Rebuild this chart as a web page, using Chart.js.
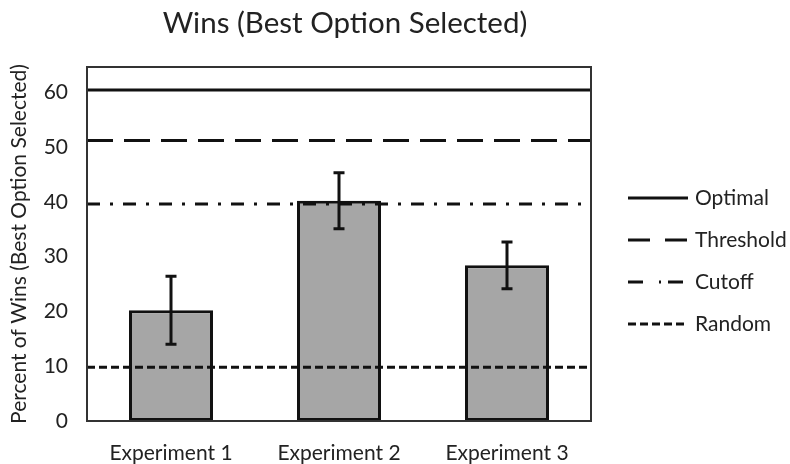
<!DOCTYPE html>
<html>
<head>
<meta charset="utf-8">
<script src="https://cdn.jsdelivr.net/npm/chart.js@4.4.1/dist/chart.umd.min.js"></script>
<style>
  html, body { margin: 0; padding: 0; background: #ffffff; }
  #wrap { width: 790px; height: 464px; }
</style>
</head>
<body>
<div id="wrap"><canvas id="chart" width="790" height="464"></canvas></div>
<script>
// Share of trials in which the best option was selected, per experiment
const experiments = ['Experiment 1', 'Experiment 2', 'Experiment 3'];
const winPercent = [20.2, 40.2, 28.4];
const winError = [6.2, 5.1, 4.25];

// Benchmark strategies shown as horizontal reference lines
const benchmarkNames = ['Optimal', 'Threshold', 'Cutoff', 'Random'];
const benchmarkValues = [60.4, 51.2, 39.6, 9.8];

const yTicks = [0, 10, 20, 30, 40, 50, 60];

const FONT = 'Lato, "Open Sans", "Noto Sans", sans-serif';
const INK = '#222222';

// dash patterns: in the plot and in the key
const plotDash = { Optimal: [], Threshold: [26, 11], Cutoff: [13, 10, 3, 10], Random: [8, 4] };
const keyDash = { Optimal: [], Threshold: [22, 15], Cutoff: [15, 16, 2, 7], Random: [8, 4] };

const overlay = {
  id: 'overlay',
  afterLayout(chart) {
    // centre the title slightly right of the plot centre
    const t = chart.titleBlock;
    if (t) { t.left += 6; t.right += 6; }
  },
  afterDatasetsDraw(chart) {
    const { ctx, chartArea: a, scales: { x, y } } = chart;
    ctx.save();
    // reference lines
    ctx.strokeStyle = '#111111';
    ctx.lineWidth = 3;
    ctx.lineCap = 'butt';
    benchmarkNames.forEach((name, i) => {
      const py = y.getPixelForValue(benchmarkValues[i]);
      ctx.setLineDash(plotDash[name]);
      ctx.beginPath();
      ctx.moveTo(a.left, py);
      ctx.lineTo(a.right, py);
      ctx.stroke();
    });
    ctx.setLineDash([]);
    // error bars
    winPercent.forEach((v, i) => {
      const px = x.getPixelForValue(i);
      const hi = y.getPixelForValue(v + winError[i]);
      const lo = y.getPixelForValue(v - winError[i]);
      ctx.beginPath();
      ctx.moveTo(px, hi); ctx.lineTo(px, lo);
      ctx.moveTo(px - 5.5, hi); ctx.lineTo(px + 5.5, hi);
      ctx.moveTo(px - 5.5, lo); ctx.lineTo(px + 5.5, lo);
      ctx.stroke();
    });
    // plot frame
    ctx.strokeStyle = '#333333';
    ctx.lineWidth = 2;
    ctx.strokeRect(a.left, a.top, a.right - a.left, a.bottom - a.top);
    ctx.restore();
  },
  afterDraw(chart) {
    const { ctx } = chart;
    ctx.save();
    ctx.font = '21px ' + FONT;
    ctx.textBaseline = 'middle';
    ctx.textAlign = 'left';
    benchmarkNames.forEach((name, i) => {
      const ly = 198 + 42 * i;
      ctx.strokeStyle = '#111111';
      ctx.lineWidth = 3;
      ctx.setLineDash(keyDash[name]);
      ctx.beginPath();
      ctx.moveTo(628, ly);
      ctx.lineTo(688, ly);
      ctx.stroke();
      ctx.setLineDash([]);
      ctx.fillStyle = INK;
      ctx.fillText(name, 695, ly);
    });
    ctx.restore();
  }
};

new Chart(document.getElementById('chart'), {
  type: 'bar',
  data: {
    labels: experiments,
    datasets: [{
      label: 'Wins',
      data: winPercent,
      backgroundColor: '#a6a6a6',
      borderColor: '#111111',
      borderWidth: 3,
      borderSkipped: false,
      barPercentage: 0.5,
      categoryPercentage: 1.0
    }]
  },
  options: {
    responsive: false,
    animation: false,
    devicePixelRatio: 1,
    layout: { padding: { left: 0, right: 199, top: 0, bottom: 0 } },
    plugins: {
      legend: { display: false },
      tooltip: { enabled: false },
      title: {
        display: true,
        fullSize: false,
        text: 'Wins (Best Option Selected)',
        color: INK,
        font: { family: FONT, size: 29.5, weight: 'normal', lineHeight: 1.2 },
        padding: { top: 6, bottom: 25.6 }
      }
    },
    scales: {
      x: {
        grid: { display: false, drawTicks: false },
        border: { display: false },
        ticks: { color: INK, font: { family: FONT, size: 21 }, padding: 20 },
        afterFit(s) { s.height = 43; }
      },
      y: {
        min: 0,
        max: 64.6,
        grid: { display: false, drawTicks: false },
        border: { display: false },
        afterBuildTicks(s) { s.ticks = yTicks.map(v => ({ value: v })); },
        ticks: { color: INK, font: { family: FONT, size: 21 }, padding: 19 },
        title: {
          display: true,
          text: 'Percent of Wins (Best Option Selected)',
          color: INK,
          font: { family: FONT, size: 21 },
          padding: { top: 7, bottom: 0 }
        },
        afterFit(s) { s.width = 87; }
      }
    }
  },
  plugins: [overlay]
});
</script>
</body>
</html>
